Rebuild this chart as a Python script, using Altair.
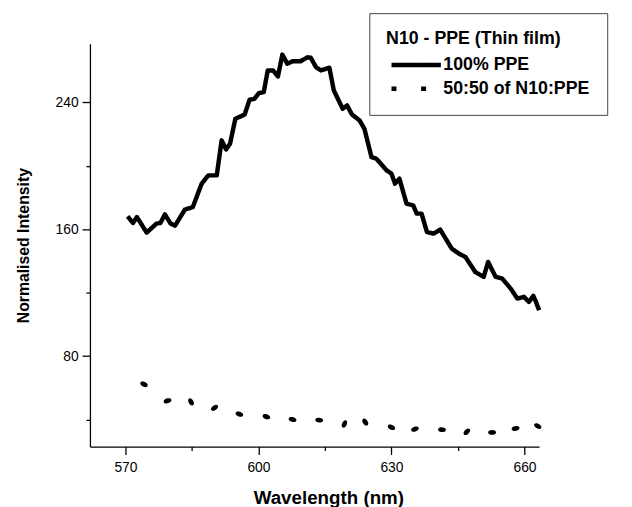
import altair as alt
import pandas as pd

# 100% PPE (solid line)
ppe_wl = [570.5, 571.7, 572.6, 574.8, 577.0, 577.9, 578.9, 580.2, 581.2, 583.4,
          585.2, 587.2, 588.7, 590.6, 591.7, 592.7, 593.6, 594.8, 596.9, 598.0,
          599.1, 600.1, 601.2, 602.1, 603.3, 604.4, 605.4, 606.5, 607.7, 609.5,
          611.1, 611.8, 613.0, 614.1, 616.0, 617.0, 619.0, 620.0, 621.1, 622.8,
          623.9, 625.5, 626.6, 628.9, 630.0, 630.8, 631.8, 633.4, 634.9, 635.7,
          636.8, 638.0, 639.5, 641.0, 642.0, 643.6, 645.2, 646.7, 648.9, 650.8,
          651.8, 653.5, 655.0, 656.9, 658.4, 659.9, 661.0, 662.0, 662.6, 663.3]
ppe_int = [168.2, 164.0, 167.7, 157.9, 163.6, 164.0, 169.4, 163.6, 162.3, 172.4,
           174.0, 188.8, 194.0, 194.0, 216.1, 210.4, 214.0, 229.7, 232.4, 241.7,
           242.3, 245.9, 246.5, 260.2, 260.2, 256.4, 270.2, 264.4, 266.0, 266.0,
           268.5, 268.2, 262.2, 260.2, 261.9, 247.6, 236.0, 238.1, 232.4, 228.7,
           223.4, 205.5, 204.5, 197.2, 195.1, 188.8, 191.9, 176.2, 175.1, 169.9,
           169.9, 158.3, 157.3, 159.8, 155.2, 147.8, 144.7, 142.5, 133.1, 130.0,
           139.4, 130.0, 128.9, 122.6, 116.3, 117.4, 114.2, 118.0, 114.2, 109.0]

# 50:50 of N10:PPE (dotted line, one dash per reading)
mix_wl = [574.2, 579.5, 584.8, 590.1, 595.7, 601.8, 607.7, 613.7, 619.4,
          624.1, 630.0, 635.3, 641.4, 647.0, 652.7, 658.0, 663.0]
mix_int = [62.2, 51.8, 51.2, 47.4, 43.5, 41.8, 40.1, 39.7, 37.2,
           38.4, 35.1, 34.0, 33.6, 32.3, 31.9, 34.4, 35.9]
mix_tilt = [25, 345, 60, 325, 20, 20, 15, 5, 295,
            55, 25, 340, 5, 315, 0, 350, 30]

series_names = ["100% PPE", "50:50 of N10:PPE"]
x_ticks = [570, 585, 600, 615, 630, 645, 660]
y_ticks = [40, 80, 120, 160, 200, 240]

df_ppe = pd.DataFrame({"wl": ppe_wl, "inten": ppe_int, "series": series_names[0]})
df_mix = pd.DataFrame({"wl": mix_wl, "inten": mix_int, "tilt": mix_tilt,
                       "series": series_names[1]})

FONT = "Liberation Sans"
W, H = 455, 408

x_enc = alt.X("wl:Q", title="Wavelength (nm)",
              scale=alt.Scale(domain=[562, 663.3], nice=False, zero=False),
              axis=alt.Axis(values=x_ticks,
                            labelExpr="datum.value % 30 == 0 ? datum.label : ''",
                            tickSize={"condition": {"test": "datum.value % 30 == 0", "value": 8}, "value": 4},
                            grid=False, labelFontSize=14, titleFontSize=19,
                            titleFontWeight="bold", titlePadding=15, labelPadding=6,
                            titleX=W / 2 + 14,
                            labelFlush=False, labelOverlap=False))
y_enc = alt.Y("inten:Q", title="Normalised Intensity",
              scale=alt.Scale(domain=[23, 277], nice=False, zero=False),
              axis=alt.Axis(values=y_ticks,
                            labelExpr="datum.value % 80 == 0 ? datum.label : ''",
                            tickSize={"condition": {"test": "datum.value % 80 == 0", "value": 8}, "value": 4},
                            grid=False, labelFontSize=14, titleFontSize=16,
                            titleFontWeight="bold", titlePadding=24, labelPadding=4,
                            labelOverlap=False))

solid = alt.Chart(df_ppe).mark_line(color="black", strokeWidth=4.5, strokeJoin="round").encode(
    x=x_enc, y=y_enc,
    strokeDash=alt.StrokeDash(
        "series:N",
        scale=alt.Scale(domain=series_names, range=[[1, 0], [5, 25]]),
        legend=alt.Legend(
            title="N10 - PPE (Thin film)", orient="none", legendX=283, legendY=-31,
            strokeColor="#444", fillColor="white", padding=17,
            titleFontSize=18, titleFontWeight="bold", titleColor="black",
            titlePadding=5, labelFontSize=18, labelFontWeight="bold",
            labelColor="black", symbolType="M-2.5,0H2.5", symbolSize=400,
            symbolStrokeWidth=4.5, symbolStrokeColor="black", symbolOffset=18,
            labelOffset=15, rowPadding=2, labelLimit=400,
        ),
    ),
)

ellipse = "M-1,0C-1,-0.8,1,-0.8,1,0C1,0.8,-1,0.8,-1,0Z"
dots = alt.Chart(df_mix).mark_point(shape=ellipse, filled=True, color="black",
                                    size=64, opacity=1).encode(
    x="wl:Q", y="inten:Q",
    angle=alt.Angle("tilt:Q", scale=None),
)

chart = alt.layer(solid, dots).properties(
    width=W, height=H,
    autosize=alt.AutoSizeParams(type="none"),
    padding={"left": 83, "top": 33, "right": 86, "bottom": 58},
).configure_view(stroke=None).configure_axis(
    domainColor="black", tickColor="black", labelColor="black", titleColor="black",
    domainWidth=1.3, tickWidth=1.3, labelFont=FONT, titleFont=FONT,
).configure_legend(labelFont=FONT, titleFont=FONT)

chart.save("out.html", embed_options={"renderer": "svg", "actions": False})
